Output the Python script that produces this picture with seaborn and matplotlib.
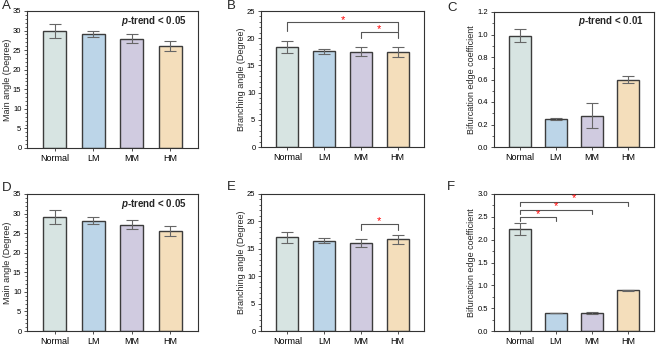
import numpy as np
import pandas as pd
import matplotlib
matplotlib.use("Agg")
import matplotlib.pyplot as plt
import seaborn as sns

groups = ["Normal", "LM", "MM", "HM"]
colors = ["#d5e6e3", "#b5d6ef", "#cec8e3", "#fde0b2"]

# panel values (mean, error)
a_mean = [30.0, 29.2, 27.9, 26.0]
a_err = [1.8, 0.8, 1.2, 1.3]
b_mean = [18.3, 17.6, 17.5, 17.5]
b_err = [1.1, 0.5, 0.8, 0.9]
c_mean = [0.99, 0.25, 0.28, 0.60]
c_err = [0.06, 0.008, 0.11, 0.03]
d_mean = [29.2, 28.2, 27.2, 25.5]
d_err = [1.8, 0.8, 1.2, 1.3]
e_mean = [17.1, 16.5, 16.1, 16.7]
e_err = [1.0, 0.5, 0.7, 0.8]
f_mean = [2.23, 0.39, 0.40, 0.89]
f_err = [0.13, 0.006, 0.02, 0.012]

sns.set_style("ticks")
plt.rcParams["font.family"] = ["Liberation Sans", "DejaVu Sans"]
plt.rcParams["mathtext.fontset"] = "custom"
plt.rcParams["mathtext.bfit"] = "Liberation Sans:italic:bold"

fig = plt.figure(figsize=(6.69, 3.47), dpi=100)
W, H = 669, 347


def make_ax(left, top, right, bottom):
    return fig.add_axes([left / W, 1 - bottom / H, (right - left) / W, (bottom - top) / H])


panels = [
    ("A", (2, 6), a_mean, a_err, "Main angle (Degree)", 35, 5, 1, (27, 11, 198, 148), "p-trend < 0.05", []),
    ("B", (227, 6), b_mean, b_err, "Branching angle (Degree)", 25, 5, 1, (261, 11, 424, 147), None,
     [(0, 3, 22.9, 21.4, 23.4), (2, 3, 21.2, 20.1, 21.7)]),
    ("C", (447, 8), c_mean, c_err, "Bifurcation edge coefficient", 1.2, 0.2, 0.1, (494, 12, 654, 147),
     "p-trend < 0.01", []),
    ("D", (2, 188), d_mean, d_err, "Main angle (Degree)", 35, 5, 1, (27, 194, 198, 331), "p-trend < 0.05", []),
    ("E", (227, 187), e_mean, e_err, "Branching angle (Degree)", 25, 5, 1, (261, 194, 424, 331), None,
     [(2, 3, 19.5, 18.5, 20.0)]),
    ("F", (447, 187), f_mean, f_err, "Bifurcation edge coefficient", 3.0, 0.5, 0.25, (494, 194, 654, 331), None,
     [(0, 3, 2.83, 2.74, 2.90), (0, 2, 2.66, 2.57, 2.73), (0, 1, 2.50, 2.41, 2.56)]),
]

for letter, lpos, means, errs, ylabel, ymax, step, minor, box, ptext, brackets in panels:
    ax = make_ax(*box)
    df = pd.DataFrame({"group": groups, "value": means})
    sns.barplot(data=df, x="group", y="value", hue="group", palette=colors, legend=False,
                width=0.6, edgecolor="#3c3c3c", linewidth=1.0, ax=ax)
    ax.errorbar(range(len(groups)), means, yerr=errs, fmt="none", ecolor="#666666",
                elinewidth=0.8, capsize=4, capthick=0.8)
    ax.set_xlim(-0.72, 3.72)
    ax.set_ylim(0, ymax)
    ticks = np.arange(0, ymax + step / 2, step)
    ax.set_yticks(ticks)
    if step < 1:
        ax.set_yticklabels([f"{v:.1f}" for v in ticks])
    ax.set_yticks(np.arange(0, ymax + minor / 2, minor), minor=True)
    ax.set_xlabel("")
    ax.set_ylabel(ylabel, fontsize=6.5, labelpad=1)
    ax.tick_params(axis="both", labelsize=5.5, length=2.5, width=0.6, pad=1.5, colors="#333333",
                   labelcolor="black")
    ax.tick_params(axis="y", which="minor", length=1.5, width=0.5)
    ax.tick_params(axis="x", labelsize=6.5, pad=2)
    for s in ax.spines.values():
        s.set_linewidth(0.8)
        s.set_color("#333333")
    if ptext:
        ax.text(0.935, 0.93, r"$\mathbfit{p}$" + ptext[1:], transform=ax.transAxes,
                ha="right", va="center", fontsize=7, fontweight="bold")
    for x0, x1, y, yend, ystar in brackets:
        ax.plot([x0, x0, x1, x1], [yend, y, y, yend], color="#555555", lw=0.8)
        ax.text((x0 + x1) / 2, ystar, "*", color="red", ha="center", va="center", fontsize=8)
    fig.text(lpos[0] / W, 1 - lpos[1] / H, letter, fontsize=9.5, ha="left", va="center")

plt.savefig("out.png", dpi=100)
